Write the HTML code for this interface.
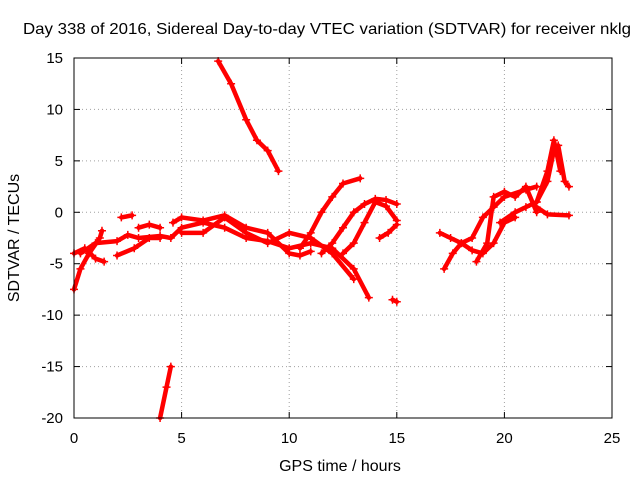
<!DOCTYPE html>
<html><head><meta charset="utf-8"><style>
body{margin:0;background:#fff}
svg{display:block;font-family:"Liberation Sans",sans-serif}
</style></head><body>
<svg id="chart" width="640" height="480">
<rect width="640" height="480" fill="#fff"/>
<text x="327" y="34" font-size="16" textLength="608" lengthAdjust="spacingAndGlyphs" text-anchor="middle">Day 338 of 2016, Sidereal Day-to-day VTEC variation (SDTVAR) for receiver nklg</text>
<text x="340" y="471" font-size="16" text-anchor="middle">GPS time / hours</text>
<text transform="translate(19,238) rotate(-90)" font-size="16" text-anchor="middle">SDTVAR / TECUs</text>
<g id="grid"></g><g id="ticks"></g><g id="marks"></g>
<rect x="74" y="58" width="538" height="360" fill="none" stroke="#000"/>
</svg>
<script>
const xTicks=[0,5,10,15,20,25];
const yTicks=[15,10,5,0,-5,-10,-15,-20];
const trackA=[[0,-7.5],[0.3,-5.5],[0.7,-4],[1.2,-2.5],[1.3,-1.8]];
const trackB=[[0,-4],[0.5,-3.5],[1,-4.5],[1.4,-4.8]];
const trackC=[[0.3,-4],[1,-3],[2,-2.8],[2.5,-2.2],[3,-2.5],[4,-2.3],[4.5,-2.5],[5,-1.5],[6,-1],[7,-1.5],[8,-2.5],[9,-2.8],[10,-3.5],[11,-3],[12,-3.5],[13,-5.5],[13.7,-8.3]];
const trackD=[[2,-4.2],[2.8,-3.5],[3.5,-2.5],[4,-2.5]];
const trackE=[[2.2,-0.5],[2.7,-0.3]];
const trackF=[[3,-1.5],[3.5,-1.2],[4,-1.5]];
const trackG=[[4.6,-1],[5,-0.5],[6,-0.8],[7,-0.3],[8,-1.5],[9,-2],[10,-4],[10.5,-4.2],[11,-3.8]];
const trackH=[[5,-2],[6,-2],[7,-0.5],[8,-2],[9,-3],[10,-2],[11,-2.5],[12,-4],[13,-6.5]];
const trackI=[[10.5,-3.5],[11,-2],[11.5,0],[12,1.5],[12.5,2.8],[13.3,3.3]];
const trackJ=[[11.5,-4],[12,-3],[12.5,-1.5],[13,0],[13.5,0.8],[14,1.3],[14.5,1.2],[15,0.8]];
const trackK=[[12.5,-4],[13,-3],[13.5,-1],[14,1],[14.5,0.6],[15,-0.8]];
const trackL=[[14.2,-2.5],[14.6,-2],[15,-1.2]];
const trackM=[[14.8,-8.5],[15,-8.7]];
const trackN=[[6.7,14.7],[7.3,12.5],[8,9],[8.5,7],[9,6],[9.5,4]];
const trackO=[[4,-20],[4.3,-17],[4.5,-15]];
const trackP=[[17.2,-5.5],[17.6,-4],[18,-3],[18.5,-2.5],[19,-0.5],[19.5,0.5],[20,1.5],[21,2.2],[21.5,2.5]];
const trackQ=[[17,-2],[17.5,-2.5],[18,-3],[18.5,-3.7],[19,-4],[19.5,-3],[20,-1],[20.5,-0.5]];
const trackR=[[18.7,-4.8],[19.2,-3],[19.5,1.5],[20,2],[20.5,1.5],[21,2.5],[21.5,0]];
const trackS=[[19.8,-1],[20.5,0],[21,0.5],[21.5,1],[22,3],[22.3,6],[22.5,6.5],[22.8,3],[23,2.5]];
const trackT=[[21.5,1],[22,4],[22.3,7],[22.6,4]];
const trackU=[[21.5,0.5],[22,-0.2],[23,-0.3]];
const tracks=[trackA,trackB,trackC,trackD,trackE,trackF,trackG,trackH,trackI,trackJ,trackK,trackL,trackM,trackN,trackO,trackP,trackQ,trackR,trackS,trackT,trackU];

const NS="http://www.w3.org/2000/svg";
const X=v=>74+(v-0)/25*538;
const Y=v=>58+(15-v)/35*360;
function mk(tag,attrs,parent){const e=document.createElementNS(NS,tag);for(const k in attrs)e.setAttribute(k,attrs[k]);parent.appendChild(e);return e;}
const grid=document.getElementById('grid'),ticks=document.getElementById('ticks'),marks=document.getElementById('marks');
xTicks.forEach(t=>{
  const x=X(t);
  if(t>0&&t<25){const g=mk('line',{x1:x,x2:x,y1:58,y2:418,stroke:'#a0a0a0','stroke-dasharray':'1,3'},grid);
  
  }
  mk('line',{x1:x,x2:x,y1:418,y2:412,stroke:'#000'},ticks);
  mk('line',{x1:x,x2:x,y1:58,y2:64,stroke:'#000'},ticks);
  const l=mk('text',{x:x,y:443,'font-size':15,'text-anchor':'middle'},ticks);l.textContent=t;
  
  
});
yTicks.forEach(t=>{
  const y=Y(t);
  if(t<15&&t>-20){const g=mk('line',{x1:74,x2:612,y1:y,y2:y,stroke:'#a0a0a0','stroke-dasharray':'1,3'},grid);
  
  }
  mk('line',{x1:74,x2:80,y1:y,y2:y,stroke:'#000'},ticks);
  mk('line',{x1:612,x2:606,y1:y,y2:y,stroke:'#000'},ticks);
  const l=mk('text',{x:63,y:y+5,'font-size':15,'text-anchor':'end'},ticks);l.textContent=t;
  
  
});
tracks.forEach(tr=>{
  const p=mk('polyline',{points:tr.map(d=>X(d[0])+','+Y(d[1])).join(' '),fill:'none',stroke:'#f00','stroke-width':4.5,'stroke-linejoin':'round','stroke-linecap':'round'},marks);
  
  
  tr.forEach(d=>{
    const m=mk('path',{d:`M${X(d[0])-4},${Y(d[1])}h8M${X(d[0])},${Y(d[1])-4}v8`,stroke:'#f00','stroke-width':1.5},marks);
    
    
  });
});
</script>
</body></html>
